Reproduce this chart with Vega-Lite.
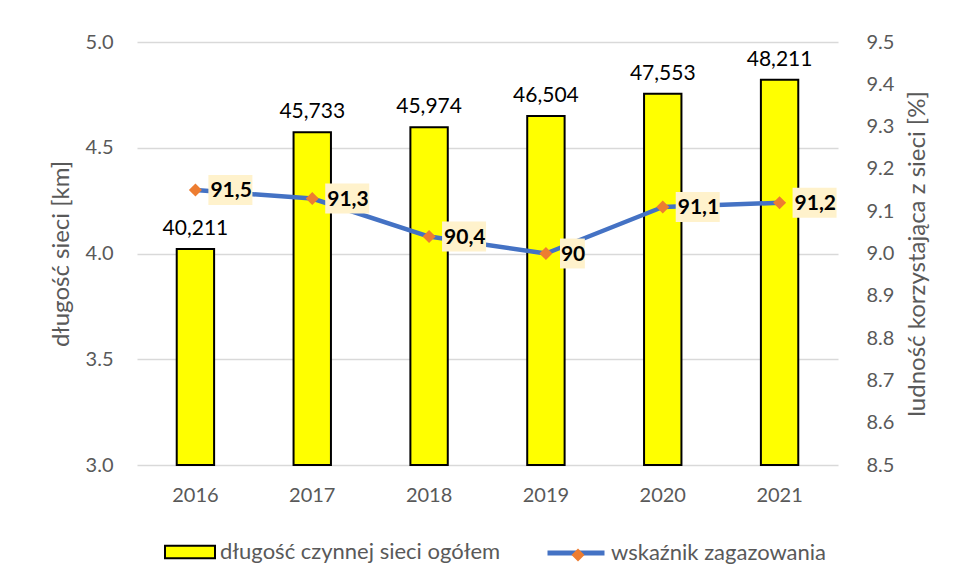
{
  "$schema": "https://vega.github.io/schema/vega-lite/v6.json",
  "autosize": "none",
  "width": 701,
  "height": 423,
  "padding": {"left": 137, "top": 42, "right": 116, "bottom": 116},
  "background": "white",
  "data": {
    "values": [
      {"rok": "2016", "dl": 40.211, "dl_label": "40,211", "wsk": 91.5, "wsk_label": "91,5"},
      {"rok": "2017", "dl": 45.733, "dl_label": "45,733", "wsk": 91.3, "wsk_label": "91,3"},
      {"rok": "2018", "dl": 45.974, "dl_label": "45,974", "wsk": 90.4, "wsk_label": "90,4"},
      {"rok": "2019", "dl": 46.504, "dl_label": "46,504", "wsk": 90.0, "wsk_label": "90"},
      {"rok": "2020", "dl": 47.553, "dl_label": "47,553", "wsk": 91.1, "wsk_label": "91,1"},
      {"rok": "2021", "dl": 48.211, "dl_label": "48,211", "wsk": 91.2, "wsk_label": "91,2"}
    ]
  },
  "encoding": {
    "x": {
      "field": "rok",
      "type": "ordinal",
      "scale": {"paddingInner": 0.68, "paddingOuter": 0.34},
      "axis": {"title": null, "labelAngle": 0, "labelPadding": 20, "ticks": false, "domain": false, "grid": false}
    }
  },
  "layer": [
    {
      "encoding": {
        "y": {
          "field": "dl",
          "type": "quantitative",
          "scale": {"domain": [30, 50], "zero": false, "nice": false},
          "axis": {
            "title": "długość sieci [km]",
            "values": [30, 35, 40, 45, 50],
            "labelExpr": "format(datum.value / 10, '.1f')",
            "grid": true,
            "gridColor": "#D9D9D9",
            "gridWidth": 1.5,
            "ticks": false,
            "domain": false,
            "labelPadding": 24,
            "titlePadding": 12
          }
        }
      },
      "layer": [
        {
          "mark": {"type": "bar", "stroke": "#000000", "strokeWidth": 2},
          "encoding": {
            "y2": {"datum": 30},
            "fill": {
              "datum": "długość czynnej sieci ogółem",
              "scale": {"range": ["#FFFF00"]},
              "legend": {
                "orient": "none",
                "legendX": 27,
                "legendY": 484,
                "title": null,
                "symbolType": "M-1,-0.25H1V0.25H-1Z",
                "symbolSize": 2500,
                "symbolStrokeColor": "#000000",
                "symbolStrokeWidth": 2,
                "labelOffset": 4,
                "labelLimit": 500,
                "zindex": 1
              }
            }
          }
        },
        {
          "mark": {"type": "text", "baseline": "alphabetic", "dy": -14, "fontSize": 21, "color": "#000000"},
          "encoding": {"text": {"field": "dl_label"}}
        }
      ]
    },
    {
      "encoding": {
        "y": {
          "field": "wsk",
          "type": "quantitative",
          "scale": {"domain": [85, 95], "zero": false, "nice": false},
          "axis": {
            "title": "ludność korzystająca z sieci [%]",
            "values": [85, 86, 87, 88, 89, 90, 91, 92, 93, 94, 95],
            "labelExpr": "format(datum.value / 10, '.1f')",
            "grid": false,
            "ticks": false,
            "domain": false,
            "labelPadding": 28,
            "titlePadding": 36,
            "titleAngle": 270
          }
        }
      },
      "layer": [
        {
          "mark": {"type": "line", "strokeWidth": 4.5, "strokeCap": "round", "strokeJoin": "round"},
          "encoding": {
            "stroke": {
              "datum": "wskaźnik zagazowania",
              "scale": {"range": ["#4472C4"]},
              "legend": {
                "orient": "none",
                "legendX": 408,
                "legendY": 480,
                "title": null,
                "symbolType": "stroke",
                "symbolSize": 3249,
                "symbolStrokeWidth": 5,
                "labelOffset": 4,
                "labelLimit": 500,
                "zindex": 1
              }
            }
          }
        },
        {
          "transform": [{"filter": "datum.wsk_label != '90'"}],
          "mark": {"type": "point", "shape": "M0.59,-0.68H2.59V0.68H0.59Z", "size": 1936, "filled": true, "color": "#FFF2CC", "opacity": 1, "strokeWidth": 0}
        },
        {
          "transform": [{"filter": "datum.wsk_label == '90'"}],
          "mark": {"type": "point", "shape": "M0.64,-0.68H1.77V0.68H0.64Z", "size": 1936, "filled": true, "color": "#FFF2CC", "opacity": 1, "strokeWidth": 0}
        },
        {
          "mark": {"type": "point", "filled": true, "color": "#ED7D31", "opacity": 1, "size": 170},
          "encoding": {
            "shape": {
              "datum": "znacznik",
              "scale": {"range": ["diamond"]},
              "legend": {
                "orient": "none",
                "legendX": 430,
                "legendY": 502,
                "title": null,
                "symbolSize": 170,
                "symbolFillColor": "#ED7D31",
                "symbolStrokeColor": "#ED7D31",
                "symbolStrokeWidth": 0,
                "labelExpr": "''",
                "zindex": 2
              }
            }
          }
        },
        {
          "mark": {"type": "text", "align": "left", "baseline": "middle", "dx": 15, "dy": 1, "fontSize": 21, "fontWeight": "bold", "color": "#000000"},
          "encoding": {"text": {"field": "wsk_label"}}
        }
      ]
    }
  ],
  "resolve": {"scale": {"y": "independent"}},
  "config": {
    "font": "Lato",
    "view": {"stroke": null},
    "axis": {
      "labelFont": "Lato",
      "labelFontSize": 20,
      "labelColor": "#595959",
      "titleFont": "Lato",
      "titleFontSize": 24,
      "titleFontWeight": "normal",
      "titleColor": "#595959"
    },
    "legend": {
      "labelFont": "Lato",
      "labelFontSize": 22,
      "labelColor": "#595959",
      "padding": 0
    }
  }
}
